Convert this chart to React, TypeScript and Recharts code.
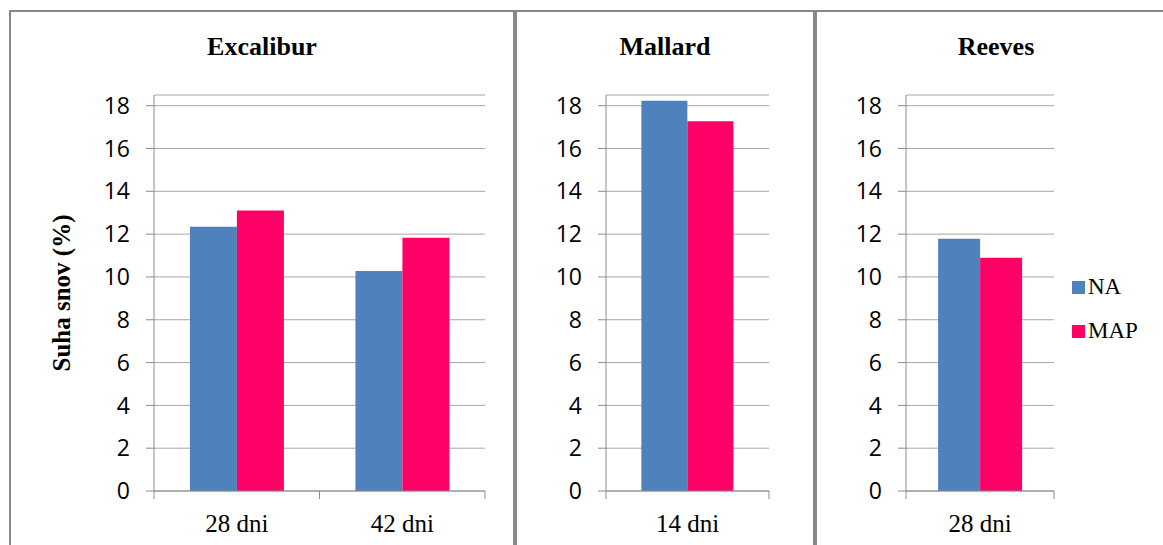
import React from 'react';
import { BarChart, Bar, XAxis, YAxis, CartesianGrid } from 'recharts';

// values (Suha snov, %)
const excaliburDays = ['28 dni', '42 dni'];
const excaliburNA = [12.35, 10.28];
const excaliburMAP = [13.1, 11.83];

const mallardDays = ['14 dni'];
const mallardNA = [18.23];
const mallardMAP = [17.27];

const reevesDays = ['28 dni'];
const reevesNA = [11.78];
const reevesMAP = [10.9];

const yTicks = [0, 2, 4, 6, 8, 10, 12, 14, 16, 18];
const yMax = 18.5;

const seriesNames = ['NA', 'MAP'];
const seriesColors = ['#4F81BD', '#FF0066'];

const GRID = '#a6a6a6';
const AXIS = '#8c8c8c';
const BORDER = '#888888';
const SERIF = '"Liberation Serif", "Times New Roman", serif';
const SANS = '"Open Sans", sans-serif';

function buildRows(days: string[], na: number[], map: number[]) {
    return days.map((d, i) => ({ name: d, [seriesNames[0]]: na[i], [seriesNames[1]]: map[i] }));
}

function makeXTick(half: number, count: number) {
    return (props: any) => {
        const { x, y, payload, index } = props;
        return (
            <g>
                <line x1={x - half} x2={x - half} y1={y} y2={y + 8} stroke={AXIS} />
                {index === count - 1 && (
                    <line x1={x + half} x2={x + half} y1={y} y2={y + 8} stroke={AXIS} />
                )}
                <text
                    x={x}
                    y={y + 41}
                    textAnchor="middle"
                    style={{ fontFamily: SERIF, fontSize: 25, fill: '#000' }}
                >
                    {payload.value}
                </text>
            </g>
        );
    };
}

type PanelProps = {
    days: string[];
    na: number[];
    map: number[];
    left: number;
    width: number;
    right: number;
    yWidth: number;
    yLabel?: string;
};

const CHART_TOP = 13;
const CHART_H = 532;
const MARGIN_TOP = 82;
const X_H = 54;

function Panel({ days, na, map, left, width, right, yWidth, yLabel }: PanelProps) {
    const data = buildRows(days, na, map);
    const plotW = width - yWidth - right;
    const half = plotW / days.length / 2;
    return (
        <div style={{ position: 'absolute', left, top: CHART_TOP }}>
            <BarChart
                width={width}
                height={CHART_H}
                data={data}
                margin={{ top: MARGIN_TOP, right, left: 0, bottom: 0 }}
                barCategoryGap="21.7%"
                barGap={0}
            >
                <CartesianGrid horizontal vertical={false} stroke={GRID} />
                <XAxis
                    dataKey="name"
                    height={X_H}
                    tickSize={0}
                    tickMargin={0}
                    tickLine={false}
                    axisLine={{ stroke: AXIS }}
                    interval={0}
                    tick={makeXTick(half, days.length)}
                />
                <YAxis
                    type="number"
                    domain={[0, yMax]}
                    ticks={yTicks}
                    interval={0}
                    width={yWidth}
                    tickSize={8}
                    tickMargin={16}
                    axisLine={{ stroke: AXIS }}
                    tickLine={{ stroke: AXIS }}
                    tick={{ fill: '#000', fontSize: 23, fontFamily: SANS }}
                    label={
                        yLabel
                            ? {
                                  value: yLabel,
                                  angle: -90,
                                  position: 'insideLeft',
                                  offset: 50,
                                  style: {
                                      textAnchor: 'middle',
                                      fontFamily: SERIF,
                                      fontWeight: 'bold',
                                      fontSize: 25,
                                      fill: '#000',
                                  },
                              }
                            : undefined
                    }
                />
                {seriesNames.map((s, i) => (
                    <Bar key={s} dataKey={s} name={s} fill={seriesColors[i]} isAnimationActive={false} />
                ))}
            </BarChart>
        </div>
    );
}

const titleStyle: React.CSSProperties = {
    position: 'absolute',
    top: 34,
    fontFamily: SERIF,
    fontWeight: 'bold',
    fontSize: 26,
    lineHeight: '26px',
    textAlign: 'center',
    color: '#000',
};

function SeriesLegend() {
    return (
        <div style={{ position: 'absolute', left: 1072, top: 265, fontFamily: SERIF, fontSize: 23, color: '#000' }}>
            {seriesNames.map((s, i) => (
                <div key={s} style={{ display: 'flex', alignItems: 'center', height: 44 }}>
                    <span
                        style={{ display: 'inline-block', width: 13, height: 13, background: seriesColors[i], marginRight: 3 }}
                    />
                    <span style={{ fontFamily: SERIF }}>{s}</span>
                </div>
            ))}
        </div>
    );
}

export default function App() {
    return (
        <div
            style={{
                position: 'absolute',
                left: 0,
                top: 0,
                width: 1163,
                height: 545,
                overflow: 'hidden',
                background: '#fff',
            }}
        >
            <div style={{ position: 'absolute', left: 9, top: 10, width: 506, height: 600, border: `2px solid ${BORDER}`, boxSizing: 'border-box' }} />
            <div style={{ position: 'absolute', left: 515, top: 10, width: 300, height: 600, border: `2px solid ${BORDER}`, boxSizing: 'border-box' }} />
            <div style={{ position: 'absolute', left: 815, top: 10, width: 400, height: 600, border: `2px solid ${BORDER}`, boxSizing: 'border-box' }} />

            <div style={{ ...titleStyle, left: 9, width: 506 }}>Excalibur</div>
            <div style={{ ...titleStyle, left: 515, width: 300 }}>Mallard</div>
            <div style={{ ...titleStyle, left: 896, width: 200 }}>Reeves</div>

            <Panel days={excaliburDays} na={excaliburNA} map={excaliburMAP} left={11} width={502} right={28} yWidth={143} yLabel="Suha snov (%)" />
            <Panel days={mallardDays} na={mallardNA} map={mallardMAP} left={517} width={296} right={44} yWidth={89} />
            <Panel days={reevesDays} na={reevesNA} map={reevesMAP} left={817} width={346} right={109} yWidth={89} />

            <SeriesLegend />
        </div>
    );
}
